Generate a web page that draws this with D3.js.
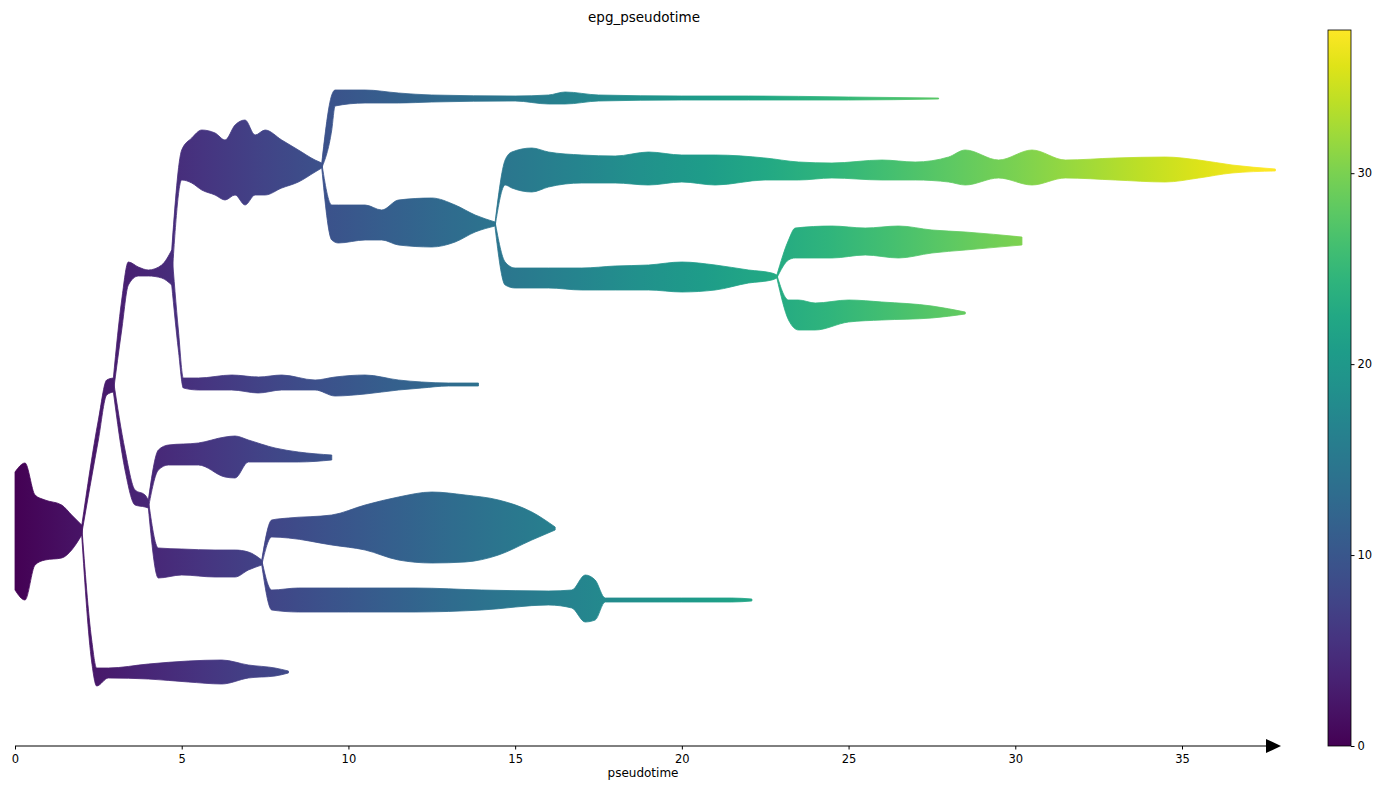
<!DOCTYPE html>
<html><head><meta charset="utf-8">
<script src="https://cdn.jsdelivr.net/npm/d3@7"></script>
<style>body{margin:0;background:#fff;font-family:"DejaVu Sans",sans-serif}</style>
</head><body><div id="chart"></div>
<script>
// each branch: [pseudotime, top, bottom] (vertical stream position, 0 = top of plot area)
const root   = [[0,442,560],[0.3,433,570],[0.6,465,535],[0.9,470,530],[1.4,475,528],[1.7,485,520],[2.0,495,505]];
const lowLeaf= [[2.0,495,505],[2.3,610,632],[2.45,638,656],[2.8,638,648],[4,634,649],[5.2,631,652],[6.2,630,654],[7,635,648],[7.8,638,646],[8.2,641,643]];
const trunkA = [[2.0,496,504],[2.5,390,410],[2.75,350,365],[2.95,348,362]];
const brB    = [[2.95,348,362],[3.2,270,300],[3.4,232,255],[3.7,237,246],[4.0,240,246],[4.4,235,248],[4.7,220,255]];
const brC    = [[2.95,350,362],[3.3,420,440],[3.6,460,475],[3.9,465,477],[4.0,470,478]];
const brD    = [[4.7,220,252],[5.0,120,150],[5.3,108,153],[5.6,100,160],[6.0,103,165],[6.3,110,170],[6.6,95,165],[6.9,90,175],[7.2,105,165],[7.5,100,165],[8.0,110,158],[8.5,120,152],[9.0,130,142],[9.2,133,138]];
const brE    = [[4.7,220,255],[4.9,300,320],[5.05,348,358],[5.5,348,360],[6.5,345,360],[7.3,347,363],[8.0,345,360],[9.0,350,360],[9.6,347,366],[10.5,345,364],[11.5,350,360],[12.2,352,358],[13.0,353,356],[13.9,353,356]];
const brF    = [[9.2,133,138],[9.5,65,100],[9.6,60,76],[10.5,60,73],[11.5,63,73],[12.5,65,72],[15,66,71],[16,65,74],[16.5,62,74],[17.5,65,71],[20,66,70],[22,66,70],[25,67,70],[27.7,68,69]];
const brG    = [[9.2,133,138],[9.5,175,210],[9.7,175,213],[10.5,175,210],[11.0,180,210],[11.5,170,215],[12.5,168,217],[13.2,175,212],[13.8,185,202],[14.4,192,196]];
const brH    = [[14.4,192,196],[14.7,130,155],[14.9,122,158],[15.5,118,162],[16,122,157],[17,125,153],[18,126,153],[19,122,155],[20,125,152],[21,125,155],[22.5,128,150],[23.5,132,150],[24.5,133,148],[26,130,150],[27,132,150],[28,127,152],[28.5,120,155],[29.5,130,148],[30.5,120,155],[31.5,130,148],[33,128,150],[34.5,127,152],[35.5,130,148],[36.5,135,143],[37.8,139,141]];
const brI    = [[14.4,192,198],[14.7,232,255],[15,238,258],[16,238,258],[17,238,260],[18,236,260],[19,235,260],[20,232,262],[21,235,260],[22,240,253],[22.7,243,250],[22.85,245,248]];
const brJ    = [[22.85,245,248],[23.2,210,230],[23.4,198,228],[24.5,196,228],[25.5,198,225],[26.5,196,228],[27.5,200,223],[28.5,202,220],[30.2,207,215]];
const brK    = [[22.85,245,248],[23.2,270,290],[23.5,270,300],[24,273,300],[25,270,292],[26,272,290],[27.5,276,288],[28.5,282,284]];
const brL    = [[4.0,470,478],[4.3,420,440],[4.6,415,435],[5.5,413,435],[6.3,407,447],[6.6,406,448],[7.0,410,432],[7.8,418,432],[8.5,422,432],[9.5,425,430]];
const brM    = [[4.0,470,478],[4.3,518,548],[5,519,545],[6,520,547],[6.6,520,547],[7.0,522,540],[7.4,530,535]];
const brN    = [[7.4,530,535],[7.7,490,507],[8.2,488,508],[9.5,485,515],[10.5,475,520],[11.5,467,530],[12.5,462,533],[13.5,465,532],[14.5,470,525],[15.5,482,510],[16.2,497,500]];
const brO    = [[7.4,530,535],[7.7,560,580],[8.5,558,582],[10,558,582],[12,558,582],[14,560,580],[16,561,575],[16.7,560,578],[17.1,545,592],[17.4,550,590],[17.7,568,572],[20,568,572],[21.5,568,572],[22.1,569,571]];
const branches = [root, lowLeaf, trunkA, brB, brC, brD, brE, brF, brG, brH, brI, brJ, brK, brL, brM, brN, brO];
const cbTicks = [0, 10, 20, 30];
const ptMax = 37.5;

const W = 1388, H = 790;
const svg = d3.select("#chart").append("svg").attr("width", W).attr("height", H);
const x = d3.scaleLinear().domain([0, 35]).range([15, 1182]);
const y = d3.scaleLinear().domain([0, 716]).range([30, 746]);
const color = d3.interpolateViridis;

const defs = svg.append("defs");
const grad = defs.append("linearGradient").attr("id", "g").attr("gradientUnits", "userSpaceOnUse")
  .attr("x1", x(0)).attr("x2", x(ptMax)).attr("y1", 0).attr("y2", 0);
d3.range(0, 1.0001, 0.05).forEach(t => grad.append("stop").attr("offset", t).attr("stop-color", color(t)));

const area = d3.area().x(d => x(d[0])).y0(d => y(d[1])).y1(d => y(d[2])).curve(d3.curveMonotoneX);
svg.append("g").selectAll("path").data(branches).join("path")
  .attr("d", area).attr("fill", "url(#g)").attr("stroke", "url(#g)").attr("stroke-width", 0.8);

// x axis with arrow
const ax = svg.append("g").attr("transform", "translate(0,746)")
  .call(d3.axisBottom(x).tickValues([0,5,10,15,20,25,30,35]).tickSize(3.5).tickSizeOuter(0));
ax.select(".domain").remove();
ax.selectAll("text").attr("font-size", 11.5).attr("font-family", "DejaVu Sans").attr("fill", "#000").attr("dy", "0.9em");
svg.append("line").attr("x1", 15).attr("x2", 1268).attr("y1", 746).attr("y2", 746).attr("stroke", "#000");
svg.append("path").attr("d", "M1266,739L1281,746L1266,753Z").attr("fill", "#000");
svg.append("text").attr("x", 643).attr("y", 777).attr("text-anchor", "middle").attr("font-size", 12).text("pseudotime");
svg.append("text").attr("x", 644).attr("y", 22).attr("text-anchor", "middle").attr("font-size", 13.5).text("epg_pseudotime");

// colorbar
const cy = d3.scaleLinear().domain([0, ptMax]).range([746, 30]);
const cg = defs.append("linearGradient").attr("id", "cb").attr("x1", 0).attr("x2", 0).attr("y1", 1).attr("y2", 0);
d3.range(0, 1.0001, 0.05).forEach(t => cg.append("stop").attr("offset", t).attr("stop-color", color(t)));
svg.append("rect").attr("x", 1328).attr("y", 30).attr("width", 23).attr("height", 716).attr("fill", "url(#cb)").attr("stroke", "#000").attr("stroke-width", 0.8);
const cax = svg.append("g").attr("transform", "translate(1351,0)").call(d3.axisRight(cy).tickValues(cbTicks).tickSize(3.5));
cax.select(".domain").remove();
cax.selectAll("text").attr("font-size", 11.5).attr("font-family", "DejaVu Sans").attr("fill", "#000");
</script></body></html>
